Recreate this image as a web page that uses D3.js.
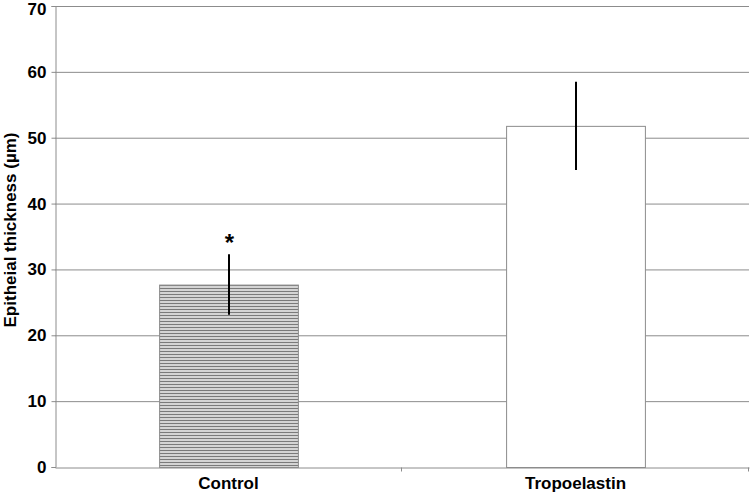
<!DOCTYPE html>
<html>
<head>
  <meta charset="UTF-8">
  <title>Epithelial thickness</title>
  <script src="https://d3js.org/d3.v7.min.js"></script>
  <style>
    body { margin: 0; background: #fff; }
    text { font-family: "Liberation Sans", Arial, sans-serif; font-weight: bold; }
  </style>
</head>
<body>
<div class="chart"></div>
<script>
  var categories = ['Control', 'Tropoelastin'];
  var means = [27.7, 51.8];
  var errors = [4.6, 6.7];
  var marks = ['*', ''];
  var yTicks = [0, 10, 20, 30, 40, 50, 60, 70];

  var margin = { top: 6, right: 1, bottom: 25, left: 55 };
  var width = 750 - margin.left - margin.right;
  var height = 492 - margin.top - margin.bottom;

  var svg = d3.select('.chart')
    .append('svg')
      .attr('width', 750)
      .attr('height', 492);

  // horizontal hatch for the control bar
  var pat = svg.append('defs').append('pattern')
    .attr('id', 'hatch')
    .attr('patternUnits', 'userSpaceOnUse')
    .attr('width', 6).attr('height', 3);
  pat.append('rect').attr('width', 6).attr('height', 3).attr('fill', '#d4d4d4');
  pat.append('rect').attr('width', 6).attr('height', 1).attr('fill', '#7a7a7a');

  var g = svg.append('g')
    .attr('transform', 'translate(' + margin.left + ',' + margin.top + ')');

  var y = d3.scaleLinear().domain([0, 70]).range([height, 0]);
  var x = d3.scaleBand().domain(categories).range([0, width]).paddingInner(0.6).paddingOuter(0.3);
  var band = d3.scaleBand().domain(categories).range([0, width]);

  // gridlines
  g.selectAll('.grid')
    .data(yTicks.slice(1))
    .enter().append('line')
      .attr('x1', 0).attr('x2', width)
      .attr('y1', d => y(d) + 0.5).attr('y2', d => y(d) + 0.5)
      .attr('stroke', '#8c8c8c');

  // y axis
  var yAxis = d3.axisLeft(y).tickValues(yTicks).tickSize(4).tickPadding(5);
  var ya = g.append('g').attr('transform', 'translate(0.5,0)').call(yAxis);
  ya.select('.domain').attr('stroke', '#8c8c8c');
  ya.selectAll('.tick line').attr('stroke', '#8c8c8c');
  ya.selectAll('.tick text').attr('font-size', 17).attr('fill', '#000')
    .attr('font-family', '"Liberation Sans", Arial, sans-serif').attr('font-weight', 'bold');
  // keep the top label inside the page
  ya.selectAll('.tick text').filter(d => d === 70).attr('y', 3);

  // bars
  g.selectAll('.bar')
    .data(categories)
    .enter().append('rect')
      .attr('x', d => x(d) + 0.5)
      .attr('y', (d, i) => y(means[i]) + 0.5)
      .attr('width', x.bandwidth())
      .attr('height', (d, i) => height - y(means[i]))
      .attr('fill', (d, i) => i === 0 ? 'url(#hatch)' : '#fff')
      .attr('stroke', '#8c8c8c');

  // error bars
  g.selectAll('.err')
    .data(categories)
    .enter().append('line')
      .attr('x1', d => x(d) + x.bandwidth() / 2 + 0.5)
      .attr('x2', d => x(d) + x.bandwidth() / 2 + 0.5)
      .attr('y1', (d, i) => y(means[i] - errors[i]))
      .attr('y2', (d, i) => y(means[i] + errors[i]))
      .attr('stroke', '#000').attr('stroke-width', 2);

  // significance mark
  g.selectAll('.mark')
    .data(categories)
    .enter().append('text')
      .attr('x', d => x(d) + x.bandwidth() / 2 + 1)
      .attr('y', (d, i) => y(means[i] + errors[i]) - 3)
      .attr('text-anchor', 'middle')
      .attr('font-size', 24)
      .text((d, i) => marks[i]);

  // x axis
  var xAxis = d3.axisBottom(band).tickSize(0).tickPadding(9);
  var xa = g.append('g').attr('transform', 'translate(0,' + (height + 0.5) + ')').call(xAxis);
  xa.select('.domain').attr('stroke', '#8c8c8c');
  xa.selectAll('.tick text').attr('font-size', 17).attr('fill', '#000')
    .attr('font-family', '"Liberation Sans", Arial, sans-serif').attr('font-weight', 'bold');
  // category separators
  xa.selectAll('.sep')
    .data([band.bandwidth(), width])
    .enter().append('line')
      .attr('x1', d => d - 0.5).attr('x2', d => d - 0.5)
      .attr('y1', 0).attr('y2', 4)
      .attr('stroke', '#8c8c8c');

  // y label
  svg.append('text')
    .attr('transform', 'translate(16,' + (margin.top + 224) + ') rotate(-90)')
    .attr('text-anchor', 'middle')
    .attr('font-size', 17)
    .text('Epitheial thickness (\u00b5m)');
</script>
</body>
</html>
